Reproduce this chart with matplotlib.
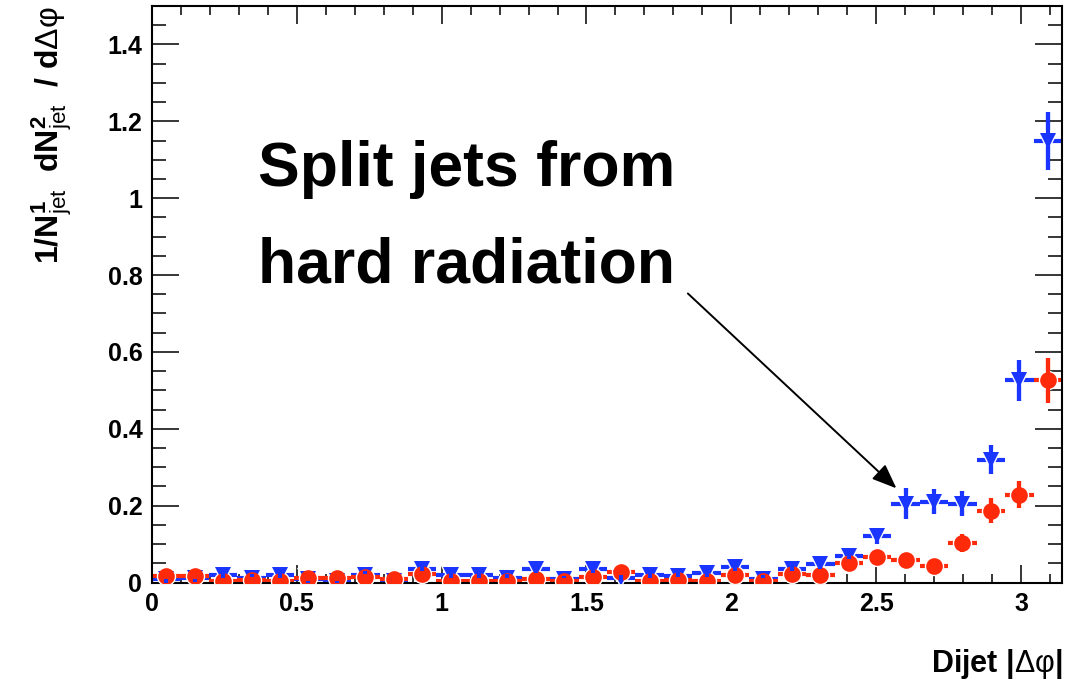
import numpy as np
import matplotlib
matplotlib.use("Agg")
import matplotlib.pyplot as plt
from matplotlib.ticker import MultipleLocator

plt.rcParams['font.family'] = ['Liberation Sans', 'DejaVu Sans']
plt.rcParams['mathtext.fontset'] = 'custom'
plt.rcParams['mathtext.rm'] = 'Liberation Sans'
plt.rcParams['mathtext.bf'] = 'Liberation Sans:bold'
plt.rcParams['mathtext.it'] = 'Liberation Sans:italic'

# ---- data: 32 bins in |dphi| from 0 to pi ----
n_bins = 32
bin_edges = np.linspace(0, np.pi, n_bins + 1)
bin_centers = 0.5 * (bin_edges[:-1] + bin_edges[1:])
bin_half = 0.5 * (bin_edges[1] - bin_edges[0])

blue_vals = [0.008, 0.012, 0.020, 0.012, 0.020, 0.008, 0.004, 0.020,
             0.005, 0.035, 0.020, 0.020, 0.012, 0.035, 0.008, 0.035,
             0.012, 0.020, 0.017, 0.025, 0.040, 0.010, 0.035, 0.048,
             0.068, 0.121, 0.205, 0.210, 0.205, 0.320, 0.526, 1.149]
blue_errs = [0.010, 0.010, 0.010, 0.010, 0.010, 0.010, 0.010, 0.010,
             0.010, 0.010, 0.010, 0.010, 0.010, 0.010, 0.010, 0.010,
             0.010, 0.010, 0.010, 0.010, 0.010, 0.010, 0.012, 0.012,
             0.015, 0.022, 0.040, 0.033, 0.032, 0.037, 0.054, 0.075]

red_vals = [0.018, 0.016, 0.005, 0.007, 0.003, 0.012, 0.012, 0.014,
            0.008, 0.021, 0.004, 0.005, 0.004, 0.010, 0.004, 0.014,
            0.027, 0.005, 0.007, 0.004, 0.020, 0.003, 0.021, 0.020,
            0.051, 0.067, 0.059, 0.043, 0.102, 0.187, 0.228, 0.526]
red_errs = [0.008, 0.008, 0.008, 0.008, 0.008, 0.008, 0.008, 0.008,
            0.008, 0.008, 0.008, 0.008, 0.008, 0.008, 0.008, 0.008,
            0.008, 0.008, 0.008, 0.008, 0.008, 0.008, 0.008, 0.008,
            0.010, 0.010, 0.010, 0.010, 0.023, 0.033, 0.035, 0.058]

x_ticks = [0, 0.5, 1, 1.5, 2, 2.5, 3]
x_tick_labels = ['0', '0.5', '1', '1.5', '2', '2.5', '3']
y_ticks = [0, 0.2, 0.4, 0.6, 0.8, 1.0, 1.2, 1.4]
y_tick_labels = ['0', '0.2', '0.4', '0.6', '0.8', '1', '1.2', '1.4']

BLUE = '#1a35ff'
RED = '#ff2a0a'

fig = plt.figure(figsize=(10.76, 6.80), dpi=100)
ax = fig.add_axes([152 / 1076, 1 - 582.5 / 680, (1062 - 152) / 1076, (582.5 - 6) / 680])

for vals, errs, col, mk, ms, ms_bg in [
        (blue_vals, blue_errs, BLUE, 'v', 11, 16),
        (red_vals, red_errs, RED, 'o', 12, 14)]:
    ax.errorbar(bin_centers, vals, xerr=bin_half, yerr=errs, fmt='none',
                ecolor=col, elinewidth=3.0, capsize=0, zorder=2)
    ax.plot(bin_centers, vals, linestyle='none', marker=mk, markersize=ms_bg,
            color='white', markeredgewidth=0, zorder=3)
    ax.plot(bin_centers, vals, linestyle='none', marker=mk, markersize=ms,
            color=col, markeredgewidth=0, zorder=4)
    # re-draw vertical bars over the white backing
    ax.errorbar(bin_centers, vals, yerr=errs, fmt='none',
                ecolor=col, elinewidth=3.0, capsize=0, zorder=5)

ax.set_xlim(0, np.pi)
ax.set_ylim(0, 1.5)
ax.set_xticks(x_ticks)
ax.set_xticklabels(x_tick_labels)
ax.set_yticks(y_ticks)
ax.set_yticklabels(y_tick_labels)
ax.xaxis.set_minor_locator(MultipleLocator(0.1))
ax.yaxis.set_minor_locator(MultipleLocator(0.05))

ax.tick_params(axis='both', which='both', direction='in', top=True, right=True,
               width=1.1, colors='black')
ax.tick_params(axis='x', which='major', length=13, pad=7)
ax.tick_params(axis='x', which='minor', length=6.5)
ax.tick_params(axis='y', which='major', length=19.5, pad=7)
ax.tick_params(axis='y', which='minor', length=10)
for lab in ax.get_xticklabels() + ax.get_yticklabels():
    lab.set_fontsize(18)
    lab.set_fontweight('bold')
for sp in ax.spines.values():
    sp.set_linewidth(1.5)

ax.set_ylabel(r'$\mathbf{1/N}^{\mathbf{1}}_{\rm jet}\ \ \mathbf{dN}^{\mathbf{2}}_{\rm jet}\ \ \mathbf{/\ d}\mathrm{\Delta\varphi}$',
              fontsize=23, loc='top', labelpad=24)
ax.set_xlabel(r'$\mathbf{Dijet\ |}\mathrm{\Delta\varphi}\mathbf{|}$', fontsize=22, loc='right', labelpad=22)

ax.text(0.366, 1.032, 'Split jets from', fontsize=45, fontweight='bold',
        ha='left', va='baseline')
ax.text(0.366, 0.781, 'hard radiation', fontsize=45, fontweight='bold',
        ha='left', va='baseline')
ax.annotate('', xy=(2.57, 0.245), xytext=(1.85, 0.752),
            arrowprops=dict(arrowstyle='-|>,head_length=1.5,head_width=0.6',
                            color='black', lw=1.4, shrinkA=0, shrinkB=0))

fig.savefig('out.png', dpi=100)
